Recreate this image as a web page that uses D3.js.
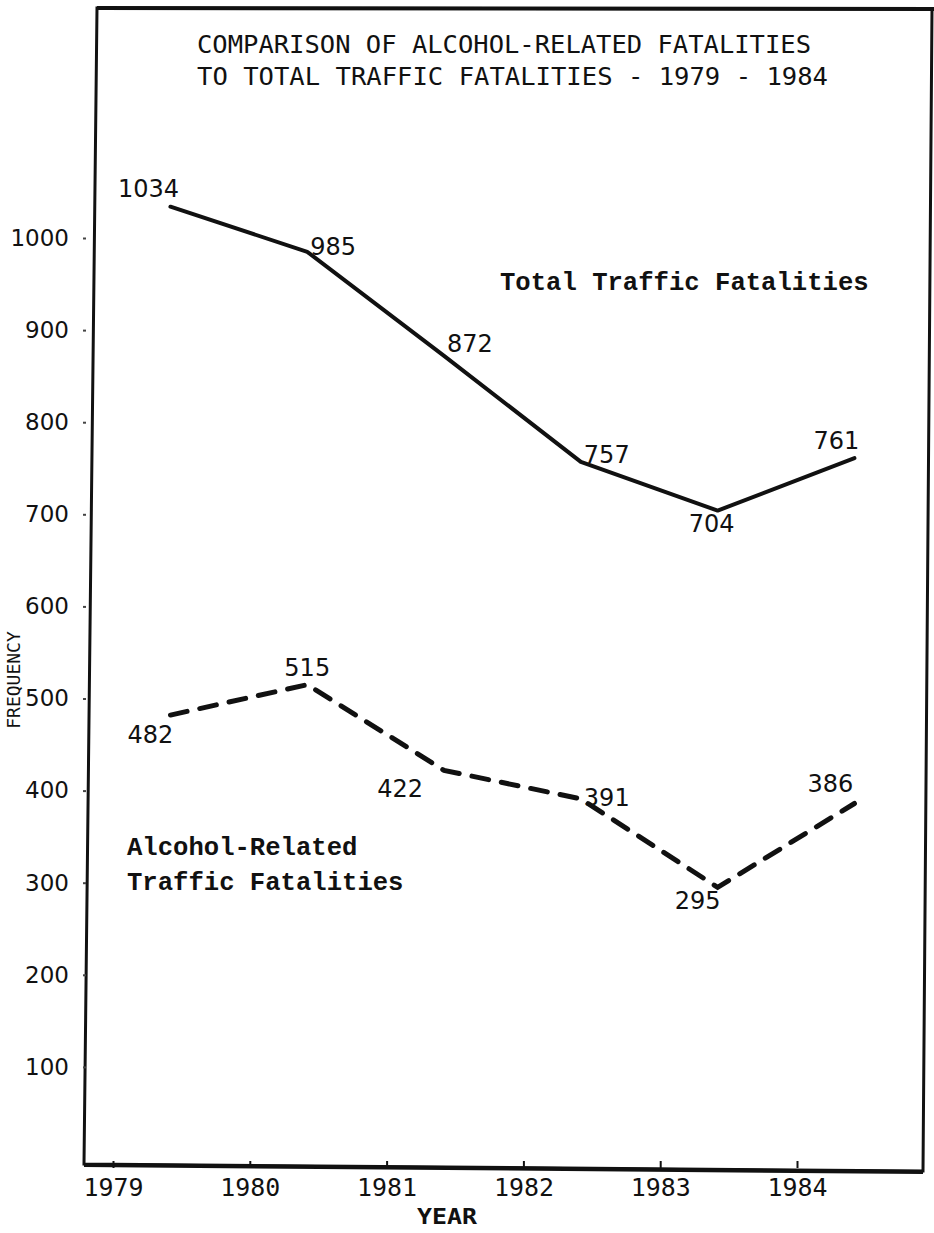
<!DOCTYPE html>
<html>
<head>
<meta charset="utf-8">
<script src="https://cdn.jsdelivr.net/npm/d3@7/dist/d3.min.js"></script>
<style>
  html, body { margin: 0; padding: 0; background: #fff; }
  svg { display: block; }
</style>
</head>
<body>
<svg id="chart" width="934" height="1233"></svg>
<script>
// ---- data ----
const years = [1979, 1980, 1981, 1982, 1983, 1984];
const totalFatalities = [1034, 985, 872, 757, 704, 761];
const alcoholFatalities = [482, 515, 422, 391, 295, 386];
const yTickValues = [100, 200, 300, 400, 500, 600, 700, 800, 900, 1000];
const xTickLabels = ["1979", "1980", "1981", "1982", "1983", "1984"];
const titleLines = ["COMPARISON OF ALCOHOL-RELATED FATALITIES",
                    "TO TOTAL TRAFFIC FATALITIES - 1979 - 1984"];

// ---- layout ----
const svg = d3.select("#chart");
const x = d3.scaleLinear().domain([1979, 1984]).range([113, 797]);
const y = d3.scaleLinear().domain([0, 1000]).range([1159, 238]);
const pointOffset = 0.42; // points plotted part-way into each year
const ink = "#111";

// frame
svg.append("path")
  .attr("d", "M97,8 L932,9 L923,1171 L84,1164 Z")
  .attr("fill", "none").attr("stroke", ink).attr("stroke-width", 3);
svg.append("line").attr("x1", 97).attr("y1", 8).attr("x2", 934).attr("y2", 9)
  .attr("stroke", ink).attr("stroke-width", 4);
svg.append("line").attr("x1", 84).attr("y1", 1165).attr("x2", 923).attr("y2", 1172)
  .attr("stroke", ink).attr("stroke-width", 4);

// title
svg.append("g").selectAll("text").data(titleLines).join("text")
  .attr("x", 197).attr("y", (d, i) => 53 + i * 32)
  .attr("textLength", (d, i) => i === 0 ? 614 : 631)
  .attr("lengthAdjust", "spacingAndGlyphs")
  .attr("font-family", "'DejaVu Sans Mono', monospace")
  .attr("font-size", 25)
  .attr("fill", ink)
  .text(d => d);

// y axis (ticks as small marks left of frame)
const yAxis = d3.axisLeft(y).tickValues(yTickValues).tickFormat(d3.format("d"))
  .tickSize(3).tickPadding(14);
const gy = svg.append("g").attr("transform", "translate(86,0)").call(yAxis);
gy.select(".domain").remove();
gy.selectAll(".tick line").attr("stroke", "#444").attr("stroke-width", 2);
gy.selectAll(".tick text")
  .attr("font-family", "'DejaVu Sans', sans-serif")
  .attr("font-size", 23).attr("fill", ink);

// x axis (ticks pointing up from the bottom border)
const xAxis = d3.axisBottom(x).tickValues(years)
  .tickFormat((d, i) => xTickLabels[i]).tickSizeInner(-7).tickSizeOuter(0).tickPadding(11);
const gx = svg.append("g").attr("transform", "translate(0,1168)").call(xAxis);
gx.select(".domain").remove();
gx.selectAll(".tick line").attr("stroke", ink).attr("stroke-width", 2);
gx.selectAll(".tick text")
  .attr("font-family", "'DejaVu Sans Mono', monospace")
  .attr("font-size", 24).attr("textLength", 60).attr("lengthAdjust", "spacingAndGlyphs")
  .attr("fill", ink);

// axis titles
svg.append("text").attr("x", 447).attr("y", 1224).attr("text-anchor", "middle")
  .attr("font-family", "'DejaVu Sans Mono', monospace").attr("font-size", 22)
  .attr("font-weight", "bold")
  .attr("textLength", 60).attr("lengthAdjust", "spacingAndGlyphs")
  .attr("fill", ink).text("YEAR");
svg.append("text").attr("transform", "translate(20,680) rotate(-90)")
  .attr("text-anchor", "middle")
  .attr("font-family", "'DejaVu Sans Mono', monospace").attr("font-size", 18)
  .attr("fill", ink).text("FREQUENCY");

// lines
const line = d3.line()
  .x((d, i) => x(years[i] + pointOffset))
  .y(d => y(d));

svg.append("path").datum(totalFatalities)
  .attr("d", line).attr("fill", "none").attr("stroke", ink)
  .attr("stroke-width", 4).attr("stroke-linejoin", "round").attr("stroke-linecap", "round");

svg.append("path").datum(alcoholFatalities)
  .attr("d", line).attr("fill", "none").attr("stroke", ink)
  .attr("stroke-width", 5).attr("stroke-dasharray", "17,13").attr("stroke-linecap", "round");

// value labels
const totalLabelPos = [
  {a: "middle", dx: -22, dy: -10}, {a: "start", dx: 3, dy: 3}, {a: "start", dx: 3, dy: -4},
  {a: "start", dx: 3, dy: 1}, {a: "middle", dx: -6, dy: 21}, {a: "middle", dx: -18, dy: -9}
];
const alcoholLabelPos = [
  {a: "middle", dx: -20, dy: 28}, {a: "middle", dx: 0, dy: -9}, {a: "middle", dx: -44, dy: 27},
  {a: "start", dx: 3, dy: 7}, {a: "middle", dx: -20, dy: 22}, {a: "middle", dx: -24, dy: -11}
];
function labels(values, pos) {
  svg.append("g").selectAll("text").data(values).join("text")
    .attr("x", (d, i) => x(years[i] + pointOffset) + pos[i].dx)
    .attr("y", (d, i) => y(d) + pos[i].dy)
    .attr("text-anchor", (d, i) => pos[i].a)
    .attr("font-family", "'DejaVu Sans', sans-serif")
    .attr("font-size", 24).attr("fill", ink)
    .text(d => d);
}
labels(totalFatalities, totalLabelPos);
labels(alcoholFatalities, alcoholLabelPos);

// series labels
const seriesFont = "'Liberation Mono', 'Courier New', monospace";
svg.append("text").attr("x", 500).attr("y", 290)
  .attr("font-family", seriesFont).attr("font-size", 25.6).attr("font-weight", "bold")
  .attr("fill", ink).text("Total Traffic Fatalities");
svg.append("text").attr("x", 127).attr("y", 855)
  .attr("font-family", seriesFont).attr("font-size", 25.6).attr("font-weight", "bold")
  .attr("fill", ink).text("Alcohol-Related");
svg.append("text").attr("x", 127).attr("y", 890)
  .attr("font-family", seriesFont).attr("font-size", 25.6).attr("font-weight", "bold")
  .attr("fill", ink).text("Traffic Fatalities");
</script>
</body>
</html>
